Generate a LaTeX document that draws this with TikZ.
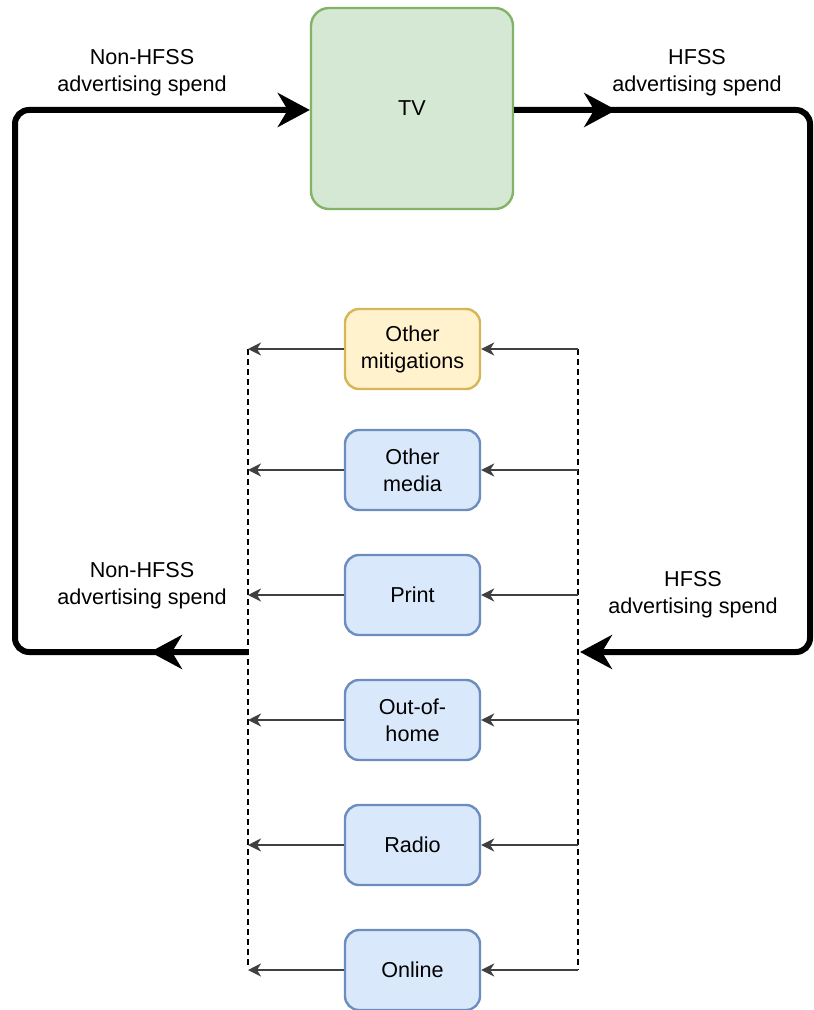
\documentclass[tikz,border=0pt]{standalone}
\usepackage{fontspec}
\setmainfont{Liberation Sans}
\usetikzlibrary{arrows.meta,decorations.markings}

\definecolor{tvfill}{HTML}{D5E8D4}
\definecolor{tvline}{HTML}{82B366}
\definecolor{mediafill}{HTML}{DAE8FC}
\definecolor{medialine}{HTML}{6C8EBF}
\definecolor{mitigfill}{HTML}{FFF2CC}
\definecolor{mitigline}{HTML}{D6B656}

\tikzset{
  txt/.style={font=\fontsize{10.8}{13.5}\selectfont, align=center},
  channel/.style={txt, draw=medialine, fill=mediafill, line width=1.2pt,
    rounded corners=7pt, minimum width=67.5pt, minimum height=40pt, inner sep=0pt},
  spend/.style={line width=3pt, rounded corners=7pt},
  bigtip/.style={-{Stealth[length=16pt,width=17pt,inset=5pt]}},
  midtip/.style={postaction={decorate}, decoration={markings,
    mark=at position #1 with {\arrow{Stealth[length=16pt,width=17pt,inset=5pt]}}}},
  feed/.style={black!75, line width=1.1pt, -{Stealth[length=6.5pt,width=6.5pt,inset=2pt]}},
  bus/.style={black, line width=0.6pt, dash pattern=on 3pt off 2pt},
}

\begin{document}
\begin{tikzpicture}[x=0.5pt,y=-0.5pt]
    \useasboundingbox (0,0) rectangle (813,1010);

    % TV box
    \node[txt, draw=tvline, fill=tvfill, line width=1.2pt, rounded corners=9pt,
      minimum width=101pt, minimum height=100.5pt] (tv) at (412,108.5) {TV};

    % Channel boxes
    \node[channel, draw=mitigline, fill=mitigfill] (mitig) at (412.5,349) {Other\\mitigations};
    \node[channel] (media) at (412.5,470) {Other\\media};
    \node[channel] (print) at (412.5,595) {Print};
    \node[channel] (outdoor) at (412.5,720) {Out-of-\\home};
    \node[channel] (radio) at (412.5,845) {Radio};
    \node[channel] (online) at (412.5,970) {Online};

    % Dashed buses
    \coordinate (busLtop) at (248,349);
    \coordinate (busLbot) at (248,968);
    \coordinate (busRtop) at (578,349);
    \coordinate (busRbot) at (578,970);
    \draw[bus] (busLtop) -- (busLbot);
    \draw[bus] (busRtop) -- (busRbot);

    % Feeds into and out of each channel
    \draw[feed] (busRtop) -- (mitig.east);
    \draw[feed] (mitig.west) -- (busLtop);
    \draw[feed] (media.east -| busRtop) -- (media.east);
    \draw[feed] (media.west) -- (media.west -| busLtop);
    \draw[feed] (print.east -| busRtop) -- (print.east);
    \draw[feed] (print.west) -- (print.west -| busLtop);
    \draw[feed] (outdoor.east -| busRtop) -- (outdoor.east);
    \draw[feed] (outdoor.west) -- (outdoor.west -| busLtop);
    \draw[feed] (radio.east -| busRtop) -- (radio.east);
    \draw[feed] (radio.west) -- (radio.west -| busLtop);
    \draw[feed] (busRbot) -- (online.east);
    \draw[feed] (online.west) -- (online.west -| busLtop);

    % Spend loops
    \coordinate (nonOut) at (248,652);
    \coordinate (hfssIn) at (580,652);
    \draw[spend, bigtip, midtip=49pt] (nonOut) -- (15,652) -- (15,110) -- (tv.west |- 0,110);
    \draw[spend, bigtip, midtip=51pt] (tv.east |- 0,110) -- (810,110) -- (810,652) -- (hfssIn);

    % Spend labels
    \node[txt] (nonTop) at (142,73) {Non-HFSS\\advertising spend};
    \node[txt] (hfssTop) at (697,73) {HFSS\\advertising spend};
    \node[txt] (nonBot) at (142,586) {Non-HFSS\\advertising spend};
    \node[txt] (hfssBot) at (693,595) {HFSS\\advertising spend};
\end{tikzpicture}
\end{document}
